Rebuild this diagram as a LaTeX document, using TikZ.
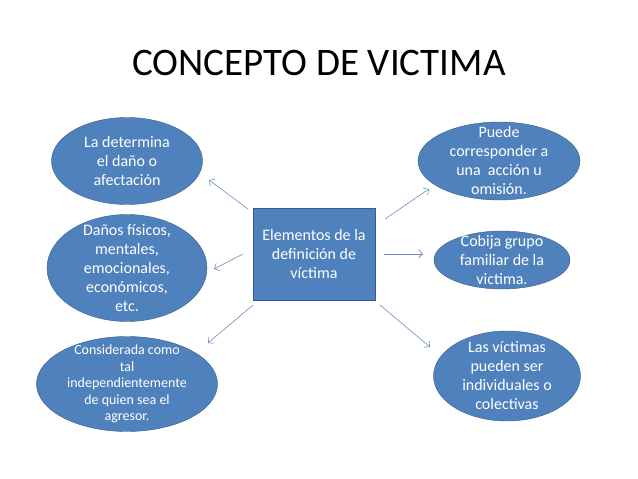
\documentclass[tikz,border=0pt]{standalone}
\usepackage{fontspec}
\setmainfont{Carlito}
\usetikzlibrary{shapes.geometric,arrows.meta}

\definecolor{boxblue}{HTML}{4F81BD}
\definecolor{boxedge}{HTML}{385D8A}
\definecolor{arrowgray}{HTML}{6F8DB8}

\tikzset{
  idea/.style={ellipse,draw=boxedge,fill=boxblue,text=white,align=center,
    inner sep=-14pt,font=\fontsize{16}{19}\selectfont},
  core/.style={rectangle,draw=boxedge,fill=boxblue,text=white,align=center,
    minimum width=122pt,minimum height=92pt,font=\fontsize{16}{19}\selectfont},
  link/.style={draw=arrowgray,line width=0.6pt,-{Straight Barb[length=4pt,width=8pt]}}
}

\begin{document}
\begin{tikzpicture}[x=1pt,y=-1pt]
  \useasboundingbox (0,0) rectangle (638,479);

  \node[anchor=base,font=\fontsize{39}{46}\selectfont] (title) at (319,75) {CONCEPTO DE VICTIMA};

  % centro
  \node[core] (elem) at (314,254) {Elementos de la\\definición de\\víctima};

  % izquierda
  \node[idea,minimum width=151pt,minimum height=87pt] (dano) at (127,161)
    {La determina\\el daño o\\afectación};
  \node[idea,minimum width=160pt,minimum height=107pt] (fisicos) at (127,268)
    {Daños físicos,\\mentales,\\emocionales,\\económicos,\\etc.};
  \node[idea,minimum width=181pt,minimum height=95pt,font=\fontsize{14}{16.5}\selectfont] (considerada) at (127,384)
    {Considerada como\\tal\\independientemente\\de quien sea el\\agresor.};

  % derecha
  \node[idea,minimum width=162pt,minimum height=78pt] (puede) at (499,161)
    {Puede\\corresponder a\\una\ \ acción u\\omisión.};
  \node[idea,minimum width=136pt,minimum height=58pt] (cobija) at (502,260)
    {Cobija grupo\\familiar de la\\victima.};
  \node[idea,minimum width=147pt,minimum height=90pt] (colectivas) at (507,376)
    {Las víctimas\\pueden ser\\individuales o\\colectivas};

  % flechas
  \coordinate (a1) at (248,209);
  \coordinate (a2) at (243,254);
  \coordinate (a3) at (253,305);
  \coordinate (a4) at (385,219);
  \coordinate (a5) at (384,254);
  \coordinate (a6) at (380,305);
  \coordinate (b1) at (209,180);
  \coordinate (b2) at (214,269);
  \coordinate (b3) at (208,343);
  \coordinate (b4) at (429,189);
  \coordinate (b5) at (423,254);
  \coordinate (b6) at (430,347);
  \foreach \i in {1,...,6}
    \draw[link] (a\i) -- (b\i);
\end{tikzpicture}
\end{document}
